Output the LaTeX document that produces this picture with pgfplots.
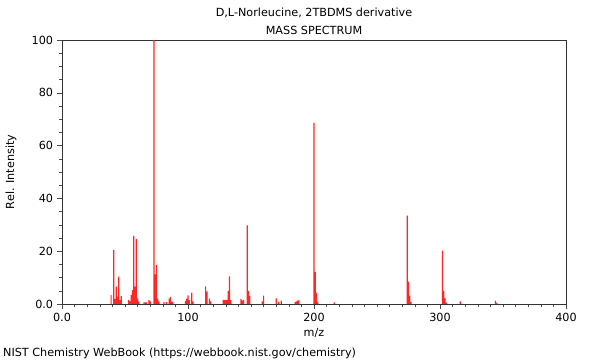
\documentclass[border=0pt]{standalone}
\usepackage{pgfplots}
\pgfplotsset{compat=1.18}
\usepackage{fontspec}
\setmainfont{DejaVu Sans}
\newcommand\fs{\fontsize{11.2bp}{13bp}\selectfont}
\begin{document}
\fs
\begin{tikzpicture}
\useasboundingbox (0,0) rectangle (600bp,360bp);
\begin{axis}[
  at={(62bp,56bp)}, anchor=south west,
  scale only axis, width=504bp, height=264bp,
  xmin=0, xmax=400, ymin=0, ymax=100,
  xtick={0,100,200,300,400}, xticklabels={0.0,100,200,300,400},
  ytick={0,20,40,60,80,100}, yticklabels={0.0,20,40,60,80,100},
  minor x tick num=9, minor y tick num=3,
  tick align=outside, tick pos=left,
  major tick length=5bp, minor tick length=3bp,
  every tick/.style={black!70},
  axis line style={black!80},
  /pgf/number format/assume math mode=true,
  ticklabel style={font=\fs},
  xlabel={m/z}, ylabel={Rel. Intensity},
  xlabel style={at={(axis description cs:0.5,-0.1098)}, anchor=center},
  ylabel style={at={(axis description cs:-0.1012,0.5)}, anchor=center},
  label style={font=\fs},
  clip=true,
]
\addplot[ybar, bar width=1.2bp, fill=red!85!white, draw=none] coordinates {
(39,3.4) (41,20.5) (42,1.9) (43,6.6) (44,2.8) (45,10.4) (46,1.5) (47,3.0)
(53,1.5) (54,1.0) (55,3.5) (56,5.3) (57,25.8) (58,6.6) (59,24.6) (60,2.1) (61,1.0)
(65,0.6) (66,0.6) (67,0.6) (69,1.5) (70,1.0)
(73,100) (74,11.2) (75,14.8) (76,2.0) (77,1.0)
(81,0.7) (83,0.7) (85,2.0) (86,2.7) (87,1.0) (88,0.8)
(98,1.2) (99,2.0) (100,3.3) (101,1.5) (103,4.3) (104,1.0)
(114,6.7) (115,4.8) (117,2.0) (118,1.0)
(128,1.6) (129,1.6) (130,1.6) (131,1.6) (132,5.0) (133,10.5) (134,1.5)
(142,1.8) (143,1.3) (144,1.6)
(147,29.8) (148,5.0) (149,3.0)
(159,1.0) (160,3.2) (170,2.1) (172,0.8) (174,1.3)
(185,0.8) (186,1.0) (187,1.3) (188,1.5)
(200,68.6) (201,12.2) (202,4.2) (203,0.8) (216,0.6)
(274,33.5) (275,8.5) (276,3.2) (277,0.7)
(302,20.2) (303,5.0) (304,2.1) (305,0.5)
(316,1.0) (344,1.3) (345,0.4)
};
\end{axis}
\node[anchor=center] at (314bp,347bp) {D,L-Norleucine, 2TBDMS derivative};
\node[anchor=center] at (314bp,330bp) {MASS SPECTRUM};
\node[anchor=west, inner sep=0pt] at (3bp,7bp) {NIST Chemistry WebBook (https://webbook.nist.gov/chemistry)};
\end{tikzpicture}
\end{document}
